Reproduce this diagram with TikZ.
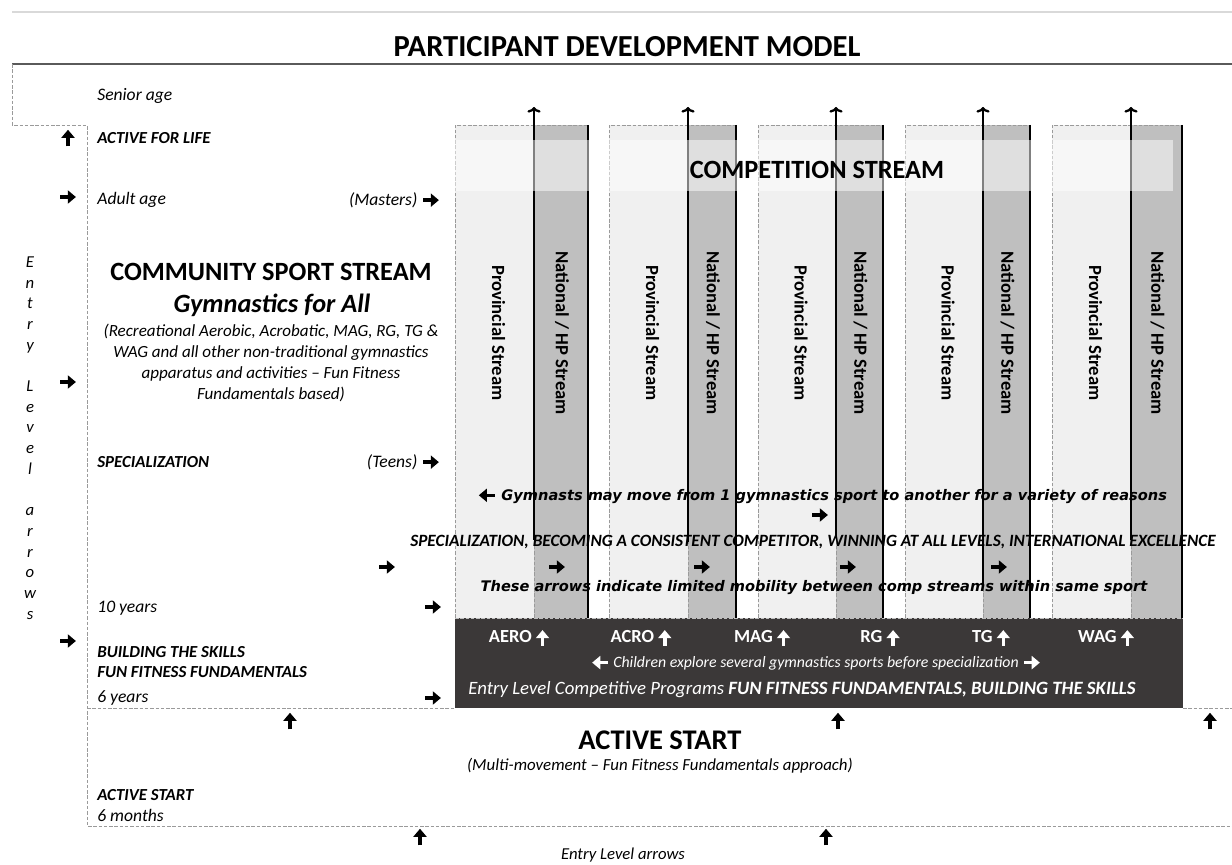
\documentclass[tikz,border=0pt]{standalone}
\usepackage{fontspec}
\setmainfont{Carlito}
\newfontfamily\dvfont{DejaVu Sans}
\usetikzlibrary{positioning,arrows.meta}

\definecolor{provgray}{HTML}{F0F0F0}
\definecolor{natgray}{HTML}{BFBFBF}
\definecolor{darkbox}{HTML}{3B3838}
\definecolor{dashgray}{HTML}{9A9A9A}
\definecolor{rulegray}{HTML}{5A5A5A}

\tikzset{heavy/.style={line width=2pt, -{Triangle[length=4.6pt,width=7.4pt]}}}
\newcommand{\rarr}{\tikz[baseline=-0.6ex]\draw[heavy] (0pt,0pt) -- (9pt,0pt);}
\newcommand{\larr}{\tikz[baseline=-0.6ex]\draw[heavy] (9pt,0pt) -- (0pt,0pt);}
\newcommand{\uarr}{\tikz[baseline=-0.6ex]\draw[heavy] (0pt,-4.7pt) -- (0pt,4.7pt);}
\newcommand{\uarrw}{\tikz[baseline=-0.5ex]\draw[heavy, white] (0pt,-4.5pt) -- (0pt,4.5pt);}

\tikzset{
    dashln/.style={draw=dashgray, dash pattern=on 2pt off 1pt, line width=0.5pt},
    agelbl/.style={anchor=west, inner sep=0pt, font=\fontsize{10}{12}\selectfont\itshape},
    stagelbl/.style={anchor=west, inner sep=0pt, font=\fontsize{9.6}{12}\selectfont\bfseries\itshape},
    arr/.style={inner sep=0pt},
    vtext/.style={rotate=-90, inner sep=0pt, font=\fontsize{10.6}{12}\selectfont\bfseries},
    boxlbl/.style={inner sep=0pt, text=white, font=\fontsize{10.5}{12}\selectfont\bfseries},
    dvline/.style={inner sep=0pt, font=\fontsize{8.3}{10}\selectfont\dvfont\bfseries\itshape},
}

\begin{document}
\begin{tikzpicture}[x=0.02cm, y=-0.02cm]
    \useasboundingbox (0,0) rectangle (1232,865);

    % title and rules
    \draw [line width=1pt, black!15] (12,12) -- (1232,12);
    \node (title) at (627,47) {\fontsize{17.4}{20}\selectfont\bfseries PARTICIPANT DEVELOPMENT MODEL};
    \draw [line width=1.2pt, rulegray] (12,64) -- (1232,64);

    % community stream outline
    \draw [dashln] (12,64) -- (12,125) -- (87,125) -- (87,826) -- (1232,826);
    \draw [dashln] (87,708) -- (455,708);
    \draw [dashln] (1183,708) -- (1232,708);

    % competition columns
    \foreach \px/\nx/\rx/\sy [count=\i] in {455/534/588/540, 609/688/736/542, 758/836/883/538, 905/983/1030/585, 1052/1131/1182/540} {
        \fill [provgray] (\px,125) rectangle (\nx,618);
        \fill [natgray]  (\nx,125) rectangle (\rx,618);
        \draw [dashln] (\px,618) -- (\px,125) -- (\rx,125);
        \draw [dashln] (\nx,618) -- (\nx,\sy);
        \draw [line width=1pt] (\rx,125) -- (\rx,618);
        \coordinate (base\i) at (\nx,\sy);
        \coordinate (tip\i) at (\nx,107);
        \draw [line width=1.3pt, -{To[length=3.2pt,width=7.5pt]}] (base\i) -- (tip\i);
        \node [vtext] (prov\i) at ({(\px+\nx)/2+4},333) {Provincial Stream};
        \node [vtext] (natl\i) at ({(\nx+\rx)/2+1},333) {National / HP Stream};
    }

    \fill [white, opacity=0.5] (455,140) rectangle (1173,191);
    \node (comp) at (817,170) {\fontsize{15}{18}\selectfont\bfseries COMPETITION STREAM};

    % entry level competitive box
    \fill [darkbox] (455,618) rectangle (1183,708);
    \draw [dashln, draw=black!25] (455,618) -- (1183,618);
    \node [boxlbl] (aero) at (519,638) {AERO \uarrw};
    \node [boxlbl] (acro) at (641,638) {ACRO \uarrw};
    \node [boxlbl] (mag)  at (762,638) {MAG \uarrw};
    \node [boxlbl] (rg)   at (880,638) {RG \uarrw};
    \node [boxlbl] (tg)   at (991,638) {TG \uarrw};
    \node [boxlbl] (wag)  at (1106,638) {WAG \uarrw};
    \node [inner sep=0pt, text=white, font=\fontsize{9}{12}\selectfont\itshape] (explore) at (816,663)
        {\tikz[baseline=-0.6ex]\draw[heavy, white] (9pt,0pt) -- (0pt,0pt);\ Children explore several gymnastics sports before specialization \tikz[baseline=-0.6ex]\draw[heavy, white] (0pt,0pt) -- (9pt,0pt);};
    \node [inner sep=0pt, text=white, font=\fontsize{10.7}{12}\selectfont\itshape] (entrycomp) at (802,690)
        {Entry Level Competitive Programs \textbf{FUN FITNESS FUNDAMENTALS, BUILDING THE SKILLS}};

    % lines across the columns
    \node [dvline] (move) at (822,496) {\larr\ Gymnasts may move from 1 gymnastics sport to another for a variety of reasons};
    \node [arr] (moveR) at (820,515) {\rarr};
    \node [inner sep=0pt, font=\fontsize{9.8}{11}\selectfont\bfseries\itshape] (excel) at (813,542)
        {SPECIALIZATION, BECOMING A CONSISTENT COMPETITOR, WINNING AT ALL LEVELS, INTERNATIONAL EXCELLENCE};
    \foreach \ax [count=\j] in {387,557,702,848,999}
        \node [arr] (mob\j) at (\ax,567) {\rarr};
    \node [dvline] (limit) at (814,588) {These arrows indicate limited mobility between comp streams within same sport};

    % left side labels
    \node [agelbl]   (senior) at (97,96)  {Senior age};
    \node [arr]      (upL1)   at (68,138) {\uarr};
    \node [stagelbl] (afl)    at (97,138) {ACTIVE FOR LIFE};
    \node [arr]      (rL1)    at (68,197) {\rarr};
    \node [agelbl]   (adult)  at (97,200) {Adult age};
    \node [agelbl, anchor=east] (masters) at (441,200) {(Masters) \rarr};

    \node [inner sep=0pt] (css) at (271,272) {\fontsize{15}{18}\selectfont\bfseries COMMUNITY SPORT STREAM};
    \node [inner sep=0pt] (gfa) at (272,305) {\fontsize{15}{18}\selectfont\bfseries\itshape Gymnastics for All};
    \node [inner sep=0pt, align=center, font=\fontsize{9.7}{11.9}\selectfont\itshape] (recr) at (271,363)
        {(Recreational Aerobic, Acrobatic, MAG, RG, TG \&\\
         WAG and all other non-traditional gymnastics\\
         apparatus and activities -- Fun Fitness\\
         Fundamentals based)};
    \node [arr] (rL2) at (68,382) {\rarr};

    \node [inner sep=0pt, align=center, font=\fontsize{9.5}{11.77}\selectfont\itshape] (entryv) at (30,438)
        {E\\n\\t\\r\\y\\\mbox{}\\L\\e\\v\\e\\l\\\mbox{}\\a\\r\\r\\o\\w\\s};

    \node [stagelbl] (spec) at (97,462) {SPECIALIZATION};
    \node [agelbl, anchor=east] (teens) at (441,462) {(Teens) \rarr};
    \node [agelbl] (ten)  at (97,608) {10 years};
    \node [arr]    (rT)   at (433,607) {\rarr};
    \node [arr]    (rL3)  at (68,641) {\rarr};
    \node [stagelbl] (bts) at (97,652) {BUILDING THE SKILLS};
    \node [stagelbl] (fff) at (97,672) {FUN FITNESS FUNDAMENTALS};
    \node [agelbl] (six)  at (97,698) {6 years};
    \node [arr]    (rS)   at (433,698) {\rarr};

    % active start
    \node [arr] (upA1) at (290,721)  {\uarr};
    \node [arr] (upA2) at (838,721)  {\uarr};
    \node [arr] (upA3) at (1210,721) {\uarr};
    \node [inner sep=0pt] (as) at (660,740) {\fontsize{16.2}{18}\selectfont\bfseries ACTIVE START};
    \node [inner sep=0pt, font=\fontsize{9.6}{12}\selectfont\itshape] (multi) at (660,766)
        {(Multi-movement -- Fun Fitness Fundamentals approach)};
    \node [stagelbl] (as2) at (97,795) {ACTIVE START};
    \node [agelbl]   (sixm) at (97,815) {6 months};
    \node [arr] (upB1) at (420,837) {\uarr};
    \node [arr] (upB2) at (826,837) {\uarr};
    \node [inner sep=0pt, font=\fontsize{9.5}{12}\selectfont\itshape] (ela) at (623,855) {Entry Level arrows};
\end{tikzpicture}
\end{document}
